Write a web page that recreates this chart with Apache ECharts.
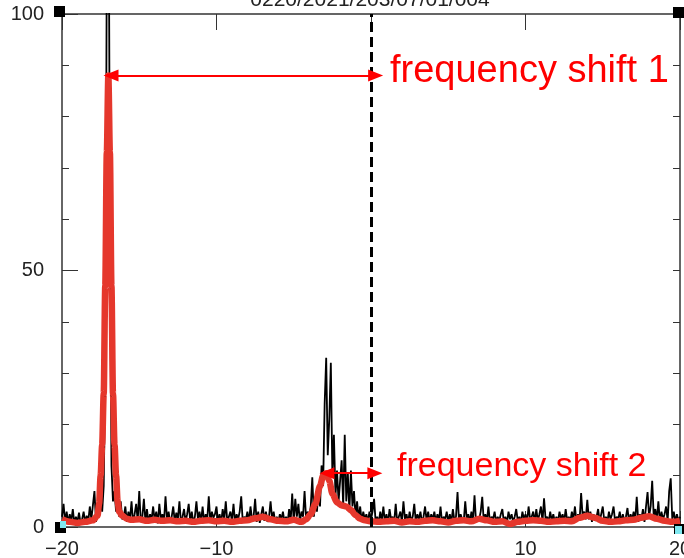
<!DOCTYPE html>
<html>
<head>
<meta charset="utf-8">
<script src="https://cdn.jsdelivr.net/npm/echarts@6/dist/echarts.min.js"></script>
<style>html,body{margin:0;padding:0;background:#fff;}#c{width:684px;height:558px;}</style>
</head>
<body>
<div id="c"></div>
<script>
// ---- data ----
const xTickLabels = [-20, -10, 0, 10, 20];
const yTickLabels = [0, 50, 100];
const titleText = '0220/2021/203/07/01/004';
const noiseStart = -20, noiseStep = 0.1;
// measured spectrum (black), one value every 0.1 from -20 to 20
const noiseY = [
  2,4.5,1,3,0.8,2.5,1.2,3.5,0.6,2,1,2.8,0.7,1.5,3,0.9,2.2,1.1,4,1.5,
  1.5,7,1,3,2,5,3,8,30,112,140,63,12,5,7,3,6,2,5,1.5,
  2,4,1,3,1.5,5,0.8,2.5,4.5,1.2,7,1,2,5.5,1,3.5,0.8,2.5,1.5,4,
  1.2,3,0.7,4.5,1.5,2.5,1,6,1.3,3,0.9,2,4,1,2.8,1.5,5,0.8,2,3.5,
  1,2.5,4.5,1.2,3,0.8,2,5,1.5,3,1,4,0.9,2.5,1.4,6,1,3,1.8,2.5,
  4,1,2.5,0.8,3.5,1.5,5,1,2,3,1.2,4.5,0.9,2.5,1.5,3,6,1,2,1.5,
  3,1,4,1.5,2,5.5,1,3,0.8,2.5,4,1.2,3,1,2,5,1.5,3,0.9,2,
  1,2.5,1.5,3,1,2,0.8,3.5,1.2,6.5,1,5.5,2,4.5,1,3,2,7,1.5,3,
  2,4,9.7,2,5,3,7,4,12,8,24,33,14,21,32,10,18,6,11,5,
  9,13,4,18,5,10.5,3,11,4,7,2,5,1.5,4,1,3,1.5,2.5,1,3,
  1.5,3,5.5,1,2,0.8,3,1.2,4,1,2.5,0.7,3.5,1.5,2,1,4.5,0.8,2,3,
  1,5,1.5,2.5,0.8,3,1.2,2,4.5,1,2.5,1.5,3,0.9,2,4,1.2,3,1,2.5,
  1.5,3,1,2.5,1.2,4,0.8,2,1.5,3,1,2.5,0.9,3.5,1.2,2,6.8,1,2.5,1.5,
  1,5,1.5,2.5,1,3,1.2,6.2,0.8,2,1.5,3,5.9,1,2.5,1.2,4,0.9,2,1.5,
  3,1,2,1.2,2.5,3.5,1,2,0.8,3,1.5,2.5,1,2,3.5,1.2,2,0.9,3,1.5,
  2.5,1,4,1.5,2,3,1,3.5,1.2,2.5,4,1,5.6,1.5,2,1,3,1.2,2.5,1,
  2,1,3,1.5,2.5,1,3.5,1.2,2,1,3,1.5,4,1,2.5,1.2,6.6,2,3,1.5,
  5.3,1.5,3,1,2.5,1.2,2,3.5,1,2.5,4,1.2,2,1,3,1.5,2.5,4,1,2,
  1.5,3,1,2.5,1.2,2,3.7,1,2.5,1.5,3,1.2,5.9,1,2.5,1.5,3.5,1,4,6.8,
  2,4,9,2,3.5,1.5,5,1,3,1.5,2.5,4,1.2,7,9.5,1.5,3,1,2.5,1.2,2
];
// smoothed spectrum (red)
const smoothX = [-20,-19.5,-19,-18.5,-18,-17.7,-17.6,-17.5,-17.4,-17.3,-17.2,-17.1,-17.0,-16.9,-16.8,-16.7,-16.6,-16.5,-16.4,-16.3,-16.1,
  -15.8,-15.5,-15,-14.5,-14,-13.5,-13,-12.5,-12,-11.5,-11,-10.5,-10,-9.5,-9,-8.5,-8,-7.5,-7,-6.5,-6,-5.5,-5,-4.5,-4.2,
  -3.9,-3.6,-3.3,-3.1,-2.9,-2.7,-2.5,-2.2,-1.9,-1.6,-1.3,-1.0,-0.7,-0.4,0,0.5,1,1.5,2,2.5,3,3.5,4,4.5,5,5.5,6,6.5,7,7.5,
  8,8.5,9,9.5,10,10.5,11,11.5,12,12.5,13,13.5,14,14.5,15,15.5,16,16.5,17,17.5,18,18.5,19,19.5,20];
const smoothY = [1.5,1.0,0.8,1.0,1.3,2.2,4.5,10,16,26,47,73,88,73,47,26,16,10,5,3,2.2,
  1.6,1.4,1.5,1.2,1.4,1.2,1.3,1.1,1.2,1.0,1.2,1.3,1.1,1.2,1.0,1.2,1.3,1.7,2.0,1.5,1.2,1.1,1.4,1.0,1.5,
  2.5,4.5,8,10,10.5,9,6.5,4.8,4.2,4,3.3,2.3,1.6,1.3,1.1,1.0,1.1,1.2,0.9,1.1,1.0,1.2,1.3,1.1,0.9,1.2,1.3,1.1,1.6,1.3,
  1.0,1.1,0.6,1.0,1.2,1.3,1.2,1.0,1.1,1.2,1.1,1.8,2.2,1.8,1.2,1.0,1.1,1.3,1.4,1.8,2.1,1.6,1.2,1.0,1.2];
// annotation arrows: [fromX, toX, y]
const shift1 = [-16.83, 0.3, 88];
const shift2 = [-2.85, 0.25, 10.5];
const shift1Label = 'frequency shift 1';
const shift2Label = 'frequency shift 2';

const noiseData = noiseY.map((v, i) => [noiseStart + i * noiseStep, v]);
const smoothData = smoothX.map((x, i) => [x, smoothY[i]]);

const chart = echarts.init(document.getElementById('c'), null, {renderer: 'canvas'});
const axisCol = '#333';
const labelFont = {fontFamily: 'Liberation Sans', fontSize: 20, color: '#222'};
const fmtNum = v => (v < 0 ? '\u2212' + Math.abs(v) : String(v));

const arrowLine = (s) => ({
  silent: true,
  symbol: ['triangle', 'triangle'],
  symbolSize: [12, 15],
  label: {show: false},
  lineStyle: {color: '#ff0000', width: 2, type: 'solid'},
  data: [[{coord: [s[0], s[2]]}, {coord: [s[1], s[2]]}]]
});

chart.setOption({
  animation: false,
  backgroundColor: '#fff',
  grid: {left: 62, right: 4, top: 14, bottom: 31, containLabel: false, outerBoundsMode: 'none'},
  xAxis: [
    {type: 'value', position: 'bottom', min: -20, max: 20, interval: 10,
     axisLine: {show: true, onZero: false, lineStyle: {color: axisCol, width: 1.5}},
     axisTick: {show: true, inside: true, length: 16, lineStyle: {color: axisCol}},
     axisLabel: Object.assign({margin: 12, formatter: v => xTickLabels.includes(v) ? fmtNum(v) : ''}, labelFont),
     splitLine: {show: false}},
    {type: 'value', position: 'top', min: -20, max: 20, interval: 10,
     axisLine: {show: true, onZero: false, lineStyle: {color: axisCol, width: 1.5}},
     axisTick: {show: true, inside: true, length: 16, lineStyle: {color: axisCol}},
     axisLabel: {show: false}, splitLine: {show: false}}
  ],
  yAxis: [
    {type: 'value', position: 'left', min: 0, max: 100, interval: 50,
     axisLine: {show: true, onZero: false, lineStyle: {color: axisCol, width: 1.5}},
     axisTick: {show: true, inside: true, length: 16, lineStyle: {color: axisCol}},
     axisLabel: Object.assign({margin: 18, formatter: v => yTickLabels.includes(v) ? fmtNum(v) : ''}, labelFont),
     splitLine: {show: false}},
    {type: 'value', position: 'left', min: 0, max: 100, interval: 10,
     axisLine: {show: false, onZero: false}, axisTick: {show: true, inside: true, length: 7, lineStyle: {color: axisCol}},
     axisLabel: {show: false}, splitLine: {show: false}},
    {type: 'value', position: 'right', min: 0, max: 100, interval: 10,
     axisLine: {show: true, onZero: false, lineStyle: {color: axisCol, width: 1.5}},
     axisTick: {show: true, inside: true, length: 7, lineStyle: {color: axisCol}},
     axisLabel: {show: false}, splitLine: {show: false}}
  ],
  series: [
    {type: 'line', name: 'raw', data: noiseData, showSymbol: false, symbol: 'none',
     lineStyle: {color: '#000', width: 1.8}, z: 2, clip: true},
    {type: 'line', name: 'smooth', data: smoothData, showSymbol: false, symbol: 'none',
     smooth: 0.3, smoothMonotone: 'x',
     lineStyle: {color: '#e5372c', width: 6.5}, z: 3, clip: true,
     markLine: {
       silent: true, symbol: ['none', 'none'], label: {show: false},
       lineStyle: {color: '#000', width: 3, type: [10, 5]},
       data: [{xAxis: 0}]
     }},
    {type: 'line', name: 'arrow1', data: [], z: 5, markLine: arrowLine(shift1)},
    {type: 'line', name: 'arrow2', data: [], z: 5, markLine: arrowLine(shift2)}
  ],
  graphic: [
    {type: 'text', x: 370, y: 11, silent: true,
     style: {text: titleText, fill: '#222', fontFamily: 'Liberation Sans', fontSize: 21,
             align: 'center', verticalAlign: 'bottom', textAlign: 'center', textVerticalAlign: 'bottom'}},
    {type: 'text', x: 390, y: 72, silent: true, z: 10,
     style: {text: shift1Label, fill: '#ff0000', fontFamily: 'Liberation Sans', fontSize: 38,
             align: 'left', verticalAlign: 'middle', textAlign: 'left', textVerticalAlign: 'middle'}},
    {type: 'text', x: 397, y: 467, silent: true, z: 10,
     style: {text: shift2Label, fill: '#ff0000', fontFamily: 'Liberation Sans', fontSize: 34,
             align: 'left', verticalAlign: 'middle', textAlign: 'left', textVerticalAlign: 'middle'}},
    {type: 'rect', shape: {x: 54, y: 6, width: 11, height: 11}, style: {fill: '#000'}, z: 20, silent: true},
    {type: 'rect', shape: {x: 673, y: 7, width: 11, height: 11}, style: {fill: '#000'}, z: 20, silent: true},
    {type: 'rect', shape: {x: 55, y: 522, width: 11, height: 11}, style: {fill: '#000'}, z: 20, silent: true},
    {type: 'rect', shape: {x: 60, y: 521, width: 6, height: 7}, style: {fill: '#7fe8f0'}, z: 21, silent: true},
    {type: 'rect', shape: {x: 674, y: 524, width: 10, height: 10}, style: {fill: '#000'}, z: 20, silent: true},
    {type: 'rect', shape: {x: 675, y: 526, width: 7, height: 8}, style: {fill: '#7fe8f0'}, z: 21, silent: true}
  ]
});
</script>
</body>
</html>
